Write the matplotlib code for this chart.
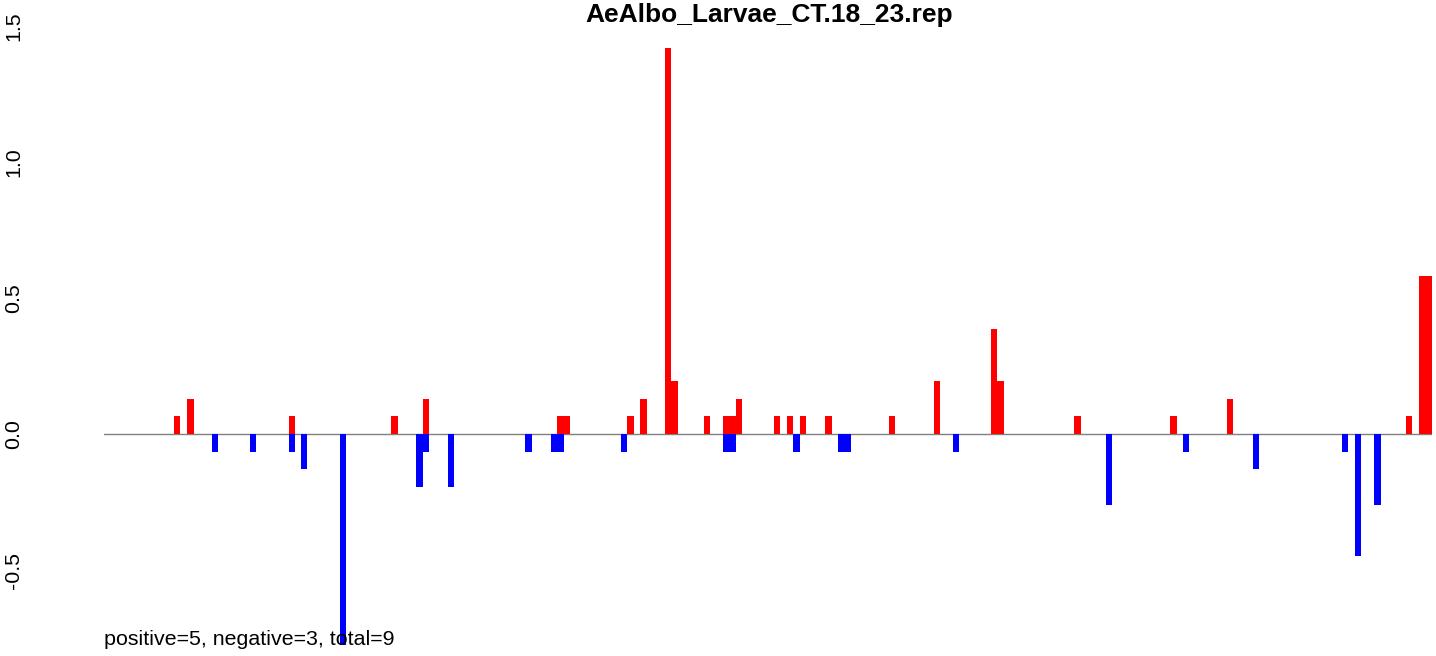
import matplotlib
matplotlib.use("Agg")
import matplotlib.pyplot as plt

plt.rcParams['font.family'] = ['Liberation Sans', 'DejaVu Sans']

title = "AeAlbo_Larvae_CT.18_23.rep"
footer = "positive=5, negative=3, total=9"

# positive (red) bars: left edge positions and values
pos_x = [11.0, 13.1, 29.1, 45.2, 50.15, 71.35, 72.35, 82.35, 84.4, 88.3, 89.3,
         94.4, 97.4, 98.4, 99.4, 105.4, 107.5, 109.5, 113.5, 123.5, 130.6,
         139.6, 140.6, 152.7, 167.8, 176.7, 204.9, 207.0, 208.0]
pos_val = [0.065, 0.13, 0.065, 0.065, 0.13, 0.065, 0.065, 0.065, 0.13, 1.42, 0.195,
           0.065, 0.065, 0.065, 0.13, 0.065, 0.065, 0.065, 0.065, 0.065, 0.195,
           0.386, 0.195, 0.065, 0.065, 0.13, 0.065, 0.58, 0.58]

# negative (blue) bars
neg_x = [17.0, 23.0, 29.1, 31.0, 37.1, 49.15, 50.15, 54.1, 66.3, 70.35, 71.35,
         81.35, 97.4, 98.4, 108.5, 115.5, 116.5, 133.6, 157.7, 169.8, 180.8,
         194.8, 196.9, 199.9]
neg_val = [-0.065, -0.065, -0.065, -0.13, -0.776, -0.195, -0.065, -0.195, -0.065, -0.065, -0.065,
           -0.065, -0.065, -0.065, -0.065, -0.065, -0.065, -0.065, -0.26, -0.065, -0.13,
           -0.065, -0.45, -0.26]

y_ticks = [-0.5, 0.0, 0.5, 1.0, 1.5]
y_labels = ["-0.5", "0.0", "0.5", "1.0", "1.5"]
x_range = (0, 209)
y_range = (-0.7757, 1.5)

W, H = 1436, 656
fig = plt.figure(figsize=(W / 100, H / 100), dpi=100)
ax = fig.add_axes([104 / W, (H - 645) / H, (1432 - 104) / W, (645 - 26) / H])

ax.bar(pos_x, pos_val, width=1.0, align='edge', color='#FF0000', linewidth=0)
ax.bar(neg_x, neg_val, width=1.0, align='edge', color='#0000FF', linewidth=0)
ax.axhline(0, color='#808080', linewidth=1.0, zorder=0.5)

ax.set_xlim(*x_range)
ax.set_ylim(*y_range)
for s in ax.spines.values():
    s.set_visible(False)
ax.set_xticks([])
ax.set_yticks(y_ticks)
ax.set_yticklabels(y_labels, rotation=90, va='center', fontsize=15.4)
ax.tick_params(axis='y', length=0, pad=58)

fig.text(769 / W, (H - 22) / H, title, ha='center', va='baseline',
         fontsize=19, fontweight='bold')
fig.text(104 / W, (H - 645) / H, footer, ha='left', va='baseline', fontsize=15.4)

fig.savefig("out.png", dpi=100)
